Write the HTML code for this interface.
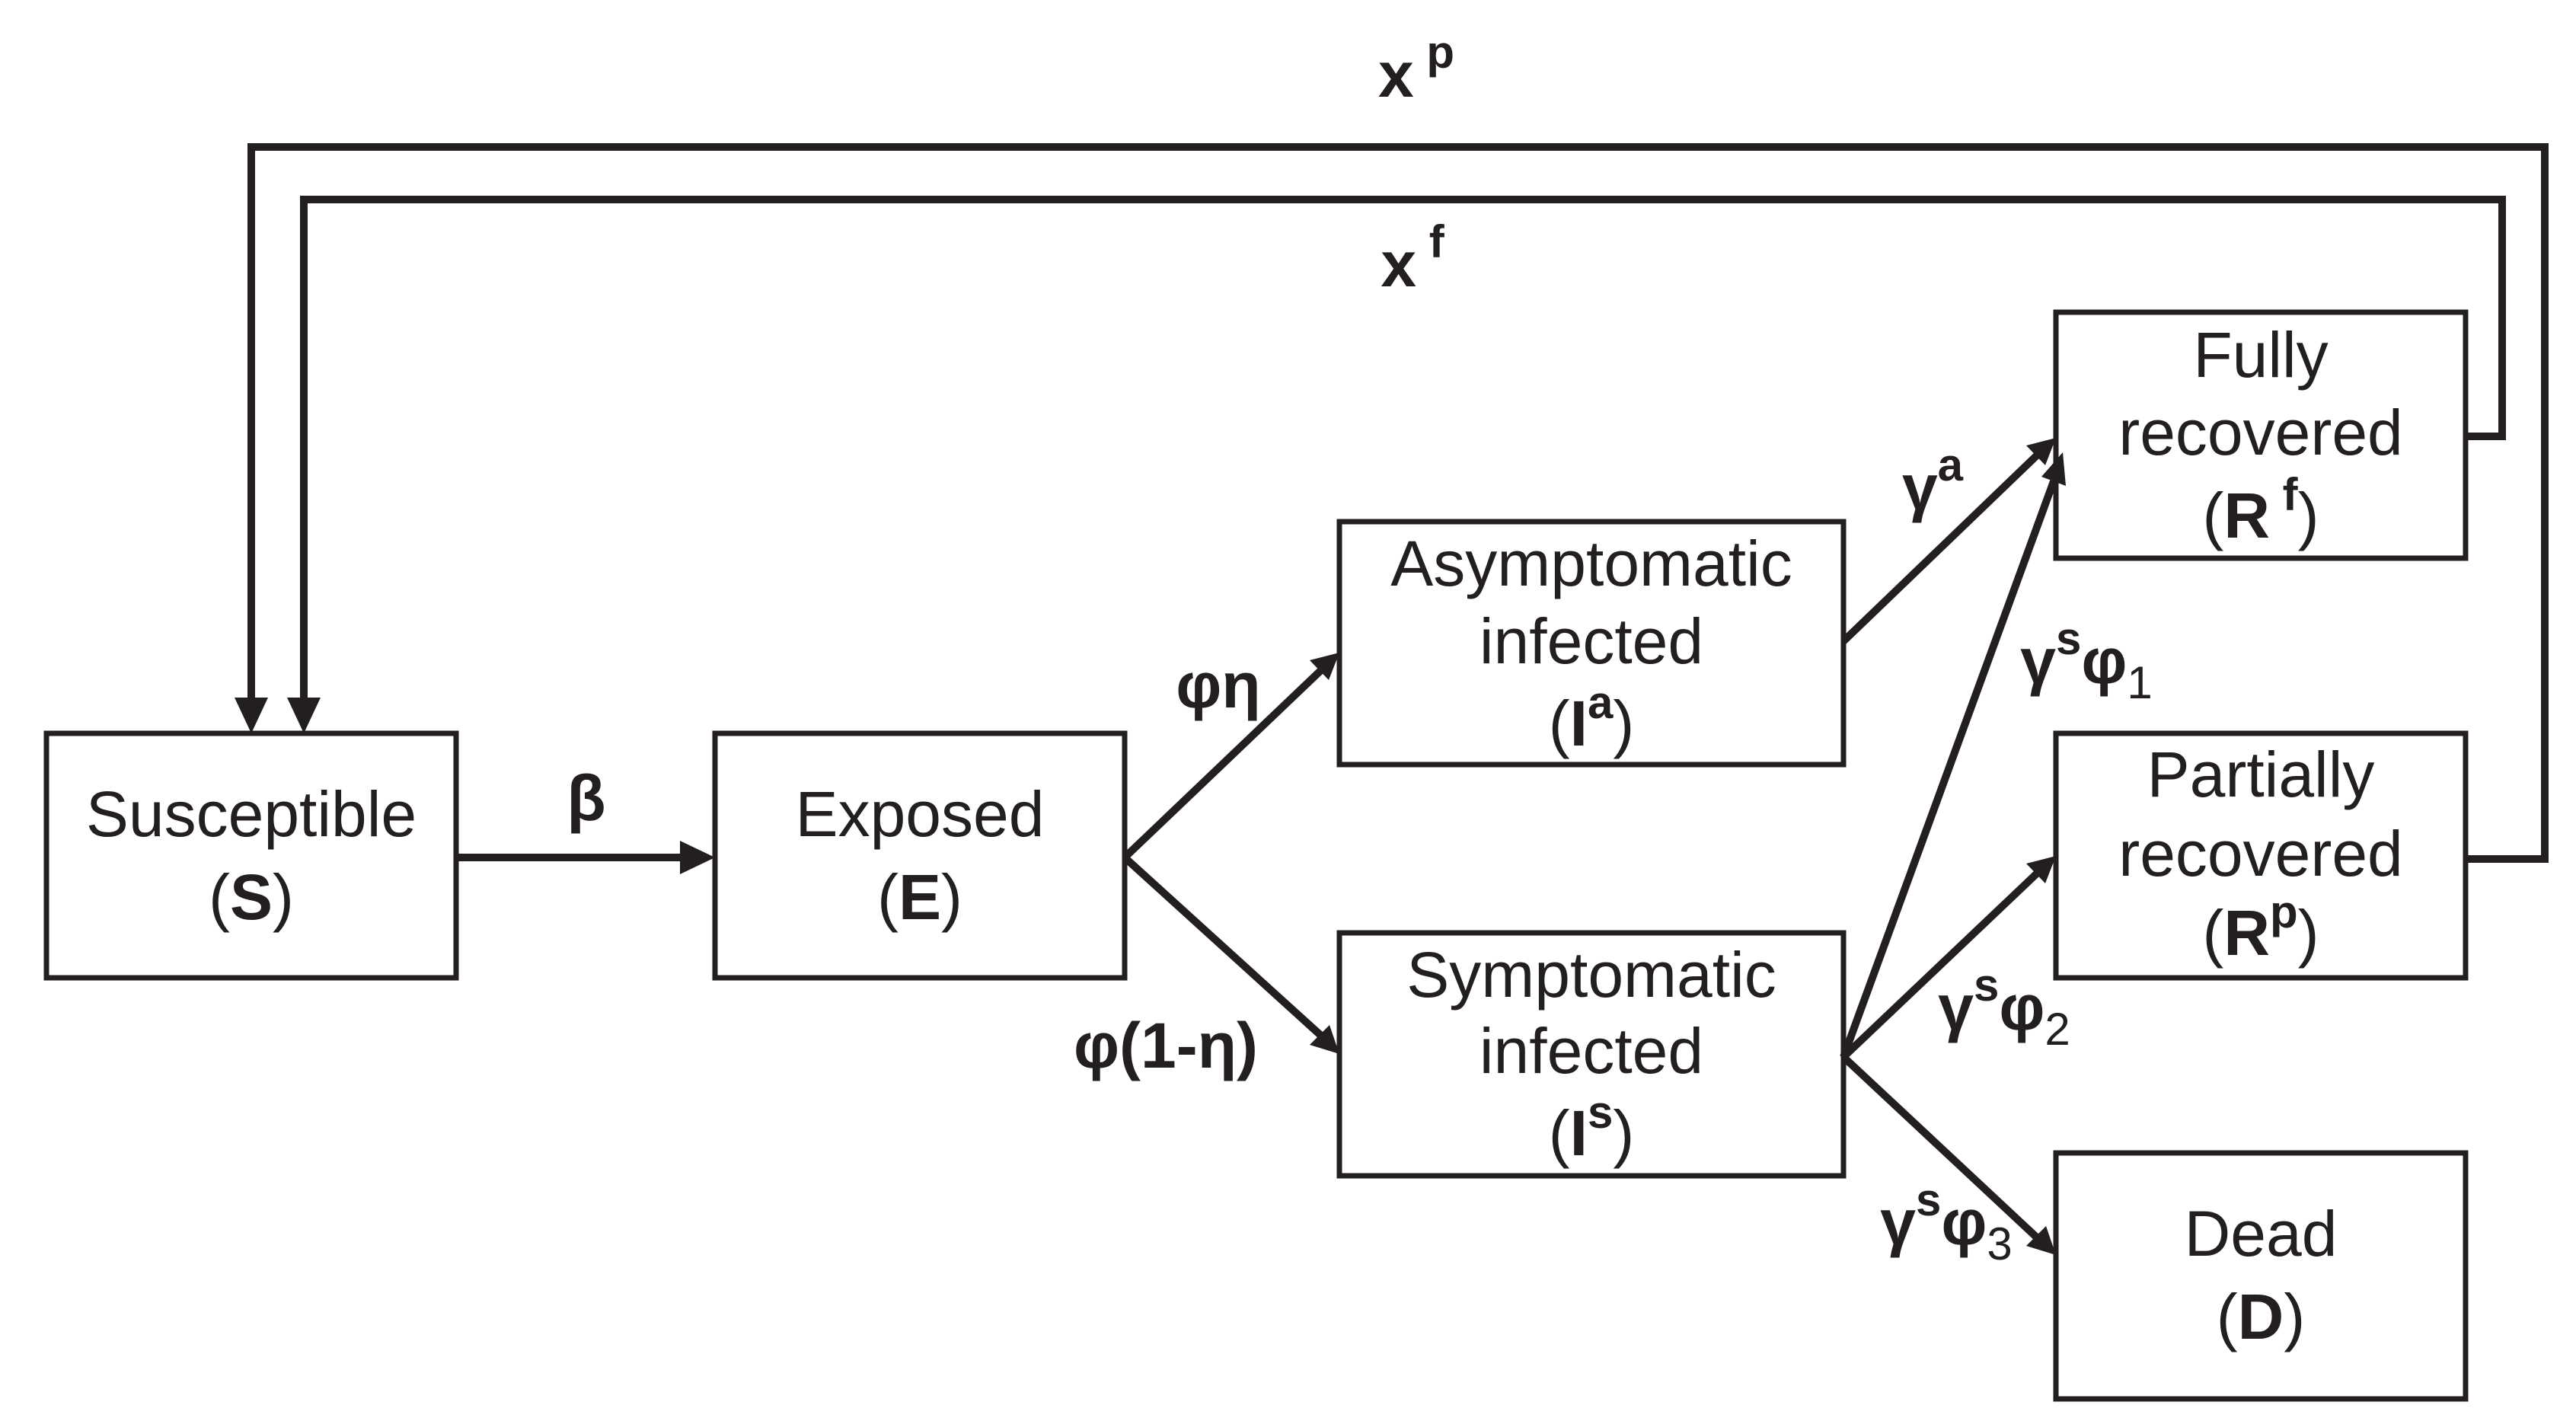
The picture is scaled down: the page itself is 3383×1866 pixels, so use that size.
<!DOCTYPE html>
<html><head><meta charset="utf-8"><style>
html,body{margin:0;padding:0;background:#fff;}
svg{display:block;}
text{font-family:"Liberation Sans",sans-serif;fill:#231f20;}
.n{font-size:84px;}
.b{font-size:84px;font-weight:bold;}
</style></head><body>
<svg width="3383" height="1866" viewBox="0 0 3383 1866" xmlns="http://www.w3.org/2000/svg">
<g fill="none" stroke="#231f20" stroke-width="7">
<rect x="61" y="963" width="538" height="321"/>
<rect x="939" y="963" width="538" height="321"/>
<rect x="1759" y="685" width="662" height="319"/>
<rect x="1759" y="1225" width="662" height="319"/>
<rect x="2700" y="410" width="538" height="323"/>
<rect x="2700" y="963" width="538" height="321"/>
<rect x="2700" y="1514" width="538" height="323"/>
</g>
<g fill="none" stroke="#231f20" stroke-width="10">
<polyline points="3238,1128 3342,1128 3342,193 330,193 330,922"/>
<polyline points="3238,573 3286,573 3286,262 399,262 399,922"/>
<line x1="599" y1="1126" x2="900" y2="1126"/>
<line x1="1477" y1="1126" x2="1735" y2="880"/>
<line x1="1477" y1="1126" x2="1735" y2="1360"/>
<line x1="2421" y1="842" x2="2676" y2="597"/>
<line x1="2421" y1="1388" x2="2697" y2="632"/>
<line x1="2421" y1="1388" x2="2676" y2="1146"/>
<line x1="2421" y1="1388" x2="2676" y2="1626"/>
</g>
<g fill="#231f20">
<polygon points="308,916 352,916 330,963"/>
<polygon points="377,916 421,916 399,963"/>
<polygon points="893,1104 893,1148 939,1126"/>
<polygon points="1759,857 1720,867 1745,893"/>
<polygon points="1759,1384 1746,1346 1720,1372"/>
<polygon points="2700,575 2661,585 2686,611"/>
<polygon points="2709,594 2681,626 2713,638"/>
<polygon points="2700,1124 2661,1134 2686,1160"/>
<polygon points="2700,1648 2687,1610 2661,1636"/>
</g>
<g text-anchor="middle" dominant-baseline="central">
<text class="n" x="330" y="1069">Susceptible</text>
<text class="n" x="330" y="1178">(<tspan font-weight="bold">S</tspan>)</text>
<text class="n" x="1208" y="1069">Exposed</text>
<text class="n" x="1208" y="1178">(<tspan font-weight="bold">E</tspan>)</text>
<text class="n" x="2090" y="740">Asymptomatic</text>
<text class="n" x="2090" y="842">infected</text>
<text class="n" x="2090" y="950">(<tspan font-weight="bold">I</tspan><tspan font-size="60" dy="-28" font-weight="bold">a</tspan><tspan dy="28">)</tspan></text>
<text class="n" x="2090" y="1280">Symptomatic</text>
<text class="n" x="2090" y="1380">infected</text>
<text class="n" x="2090" y="1488">(<tspan font-weight="bold">I</tspan><tspan font-size="60" dy="-28" font-weight="bold">s</tspan><tspan dy="28">)</tspan></text>
<text class="n" x="2969" y="466">Fully</text>
<text class="n" x="2969" y="568">recovered</text>
<text class="n" x="2969" y="677">(<tspan font-weight="bold">R</tspan><tspan font-size="60" dy="-28" font-weight="bold"> f</tspan><tspan dy="28">)</tspan></text>
<text class="n" x="2969" y="1017">Partially</text>
<text class="n" x="2969" y="1121">recovered</text>
<text class="n" x="2969" y="1225">(<tspan font-weight="bold">R</tspan><tspan font-size="60" dy="-28" font-weight="bold">p</tspan><tspan dy="28">)</tspan></text>
<text class="n" x="2969" y="1620">Dead</text>
<text class="n" x="2969" y="1729">(<tspan font-weight="bold">D</tspan>)</text>
<text class="b" x="770" y="1048">β</text>
<text class="b" x="1860" y="98">x<tspan font-size="60" dy="-30"> p</tspan></text>
<text class="b" x="1855" y="347">x<tspan font-size="60" dy="-30"> f</tspan></text>
<text class="b" x="1600" y="900">φη</text>
<text class="b" x="1531" y="1373">φ(1-η)</text>
<text class="b" x="2538" y="640">γ<tspan font-size="60" dy="-30">a</tspan></text>
<text class="b" x="2740" y="868">γ<tspan font-size="60" dy="-30">s</tspan><tspan dy="30">φ</tspan><tspan font-size="60" font-weight="normal" dy="28">1</tspan></text>
<text class="b" x="2632" y="1323">γ<tspan font-size="60" dy="-30">s</tspan><tspan dy="30">φ</tspan><tspan font-size="60" font-weight="normal" dy="28">2</tspan></text>
<text class="b" x="2556" y="1605">γ<tspan font-size="60" dy="-30">s</tspan><tspan dy="30">φ</tspan><tspan font-size="60" font-weight="normal" dy="28">3</tspan></text>
</g>
</svg>
</body></html>
